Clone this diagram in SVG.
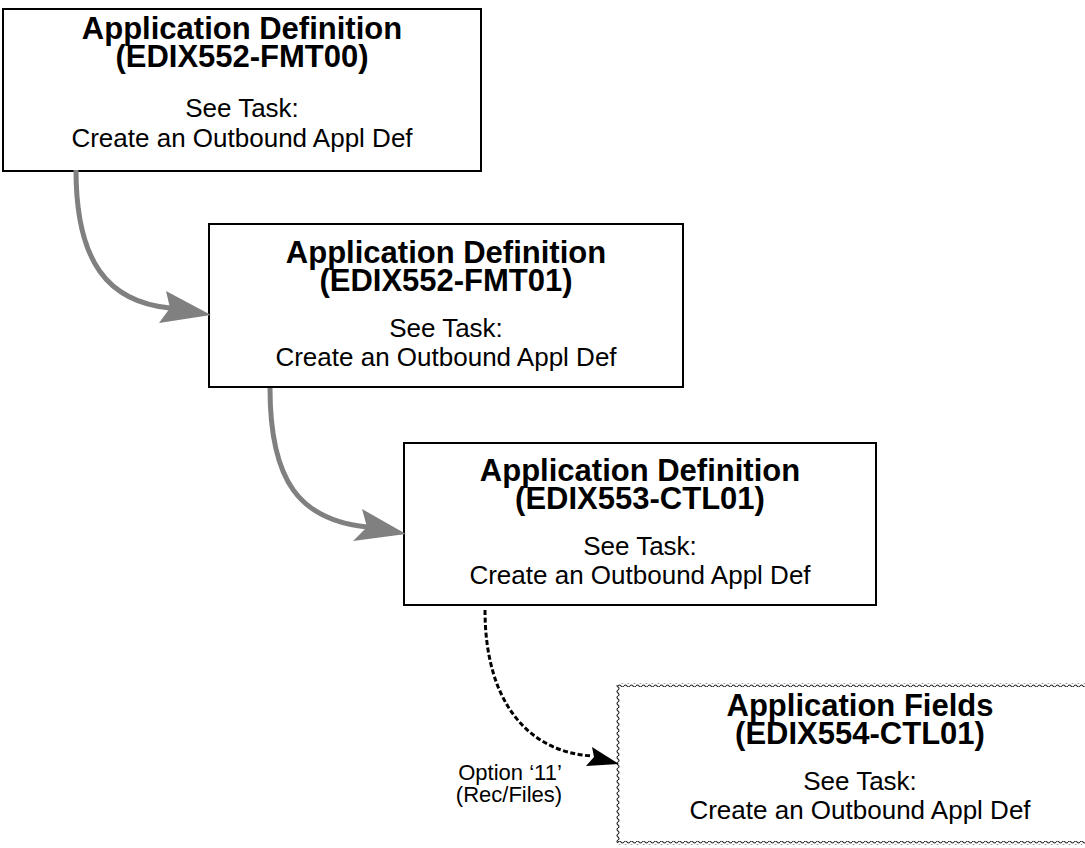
<svg xmlns="http://www.w3.org/2000/svg" width="1085" height="848" viewBox="0 0 1085 848">
<style>
.box{fill:#fff;stroke:#000;stroke-width:2}
.x{font-family:"Liberation Sans",Arial,sans-serif;fill:#000;text-anchor:middle}
.t{font-weight:bold;font-size:31px}
.s{font-size:26px}
.l{font-family:"Liberation Sans",Arial,sans-serif;font-size:22px;fill:#000;text-anchor:middle}
.g{fill:none;stroke:#808080;stroke-width:5}
.d{fill:none;stroke:#000;stroke-width:3;stroke-dasharray:5 2.5}
</style>
<defs>
<pattern id="zh" width="6" height="4" patternUnits="userSpaceOnUse">
<path d="M0,2 Q1.5,0 3,2 T6,2" fill="none" stroke="#222" stroke-width="1.1"/>
</pattern>
<pattern id="zv" width="4" height="6" patternUnits="userSpaceOnUse">
<path d="M2,0 Q0,1.5 2,3 T2,6" fill="none" stroke="#222" stroke-width="1.1"/>
</pattern>
</defs>
<rect width="1085" height="848" fill="#fff"/>
<g id="n1">
<rect class="box" x="3" y="9" width="478" height="162"/>
<text class="x"><tspan class="t" x="242" y="39">Application Definition</tspan><tspan class="t" x="242" y="67">(EDIX552-FMT00)</tspan><tspan class="s" x="242" y="117">See Task:</tspan><tspan class="s" x="242" y="147">Create an Outbound Appl Def</tspan></text>
</g>
<g id="n2">
<rect class="box" x="209" y="224" width="474" height="163"/>
<text class="x"><tspan class="t" x="446" y="263">Application Definition</tspan><tspan class="t" x="446" y="291">(EDIX552-FMT01)</tspan><tspan class="s" x="446" y="337">See Task:</tspan><tspan class="s" x="446" y="366">Create an Outbound Appl Def</tspan></text>
</g>
<g id="n3">
<rect class="box" x="404" y="443" width="472" height="162"/>
<text class="x"><tspan class="t" x="640" y="481">Application Definition</tspan><tspan class="t" x="640" y="509">(EDIX553-CTL01)</tspan><tspan class="s" x="640" y="555">See Task:</tspan><tspan class="s" x="640" y="584">Create an Outbound Appl Def</tspan></text>
</g>
<g id="n4">
<rect x="618" y="685" width="486" height="158" fill="#fff"/>
<rect x="618" y="683" width="486" height="4" fill="url(#zh)"/>
<rect x="618" y="841" width="486" height="4" fill="url(#zh)"/>
<rect x="616" y="685" width="4" height="158" fill="url(#zv)"/>
<text class="x"><tspan class="t" x="860" y="716">Application Fields</tspan><tspan class="t" x="860" y="744">(EDIX554-CTL01)</tspan><tspan class="s" x="860" y="790">See Task:</tspan><tspan class="s" x="860" y="819">Create an Outbound Appl Def</tspan></text>
</g>
<g id="connectors">
<path class="g" d="M76,170 C76,262 108,302 170,308"/>
<polygon points="211,315 166,291 170,308 159,323" fill="#808080"/>
<path class="g" d="M270,388 C270,482 300,520 367,527"/>
<polygon points="406,534 362,509 367,527 353,541" fill="#808080"/>
<path class="d" d="M485,610 C485,702 528,752 592,756"/>
<polygon points="619,764 592,747 594,757 586,766" fill="#000"/>
<text class="l"><tspan x="510" y="780">Option ‘11’</tspan><tspan x="509" y="802">(Rec/Files)</tspan></text>
</g>
</svg>
